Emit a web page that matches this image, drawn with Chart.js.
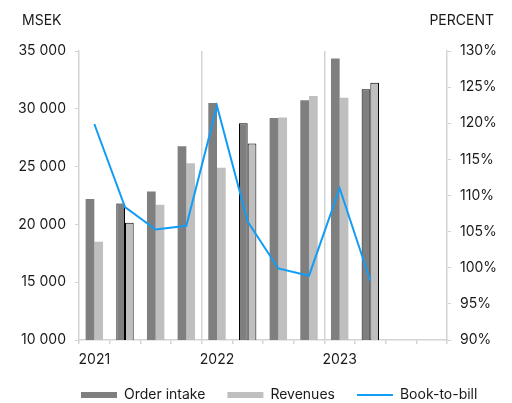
<!DOCTYPE html>
<html>
<head>
<meta charset="utf-8">
<script src="https://cdn.jsdelivr.net/npm/chart.js@4"></script>
<style>
html,body{margin:0;padding:0;background:#fff;}
#wrap{width:512px;height:403px;position:relative;}
</style>
</head>
<body>
<div id="wrap"><canvas id="c"></canvas></div>
<script>
const categories = ['2021','','','','2022','','','','2023','','',''];
const orderIntake = [22200, 21800, 22850, 26750, 30500, 28750, 29200, 30750, 34350, 31700];
const revenues = [18500, 20150, 21700, 25300, 24900, 27000, 29250, 31100, 30950, 32250];
const bookToBill = [119.9, 108.4, 105.3, 105.8, 122.4, 106.4, 99.9, 98.9, 111.0, 98.2];
const leftTicks = [10000, 15000, 20000, 25000, 30000, 35000];
const rightTicks = [90, 95, 100, 105, 110, 115, 120, 125, 130];
const seriesNames = ['Order intake', 'Revenues', 'Book-to-bill'];

const FONT = 'Inter';
const TXT = '#1a1a1a';
const AXIS = '#d4d4d4';
const C_OI = '#7f7f7f', C_REV = '#bfbfbf', C_BTB = '#119df5';
const halfYear = (ctx) => (ctx.dataIndex % 4 === 1 ? 1 : 0);

const titles = {
  id: 'axisTitles',
  afterLayout(chart) {
    const l = chart.legend;
    if (l) { const w = l.right - l.left; l.left = 59; l.right = 59 + w; }
  },
  afterDraw(chart) {
    const ctx = chart.ctx;
    ctx.save();
    ctx.font = '14px ' + FONT;
    ctx.fillStyle = TXT;
    ctx.textBaseline = 'alphabetic';
    ctx.textAlign = 'left';
    ctx.fillText('MSEK', 22, 25);
    ctx.textAlign = 'right';
    ctx.fillText('PERCENT', 494, 25);
    ctx.restore();
  }
};

new Chart(document.getElementById('c'), {
  data: {
    labels: categories,
    datasets: [
      {
        type: 'line', label: seriesNames[2], data: bookToBill, yAxisID: 'y1',
        borderColor: C_BTB, backgroundColor: C_BTB, borderWidth: 2,
        pointRadius: 0, tension: 0, order: -1
      },
      {
        type: 'bar', label: seriesNames[0], data: orderIntake, yAxisID: 'y',
        backgroundColor: C_OI, borderColor: '#000', borderWidth: halfYear,
        borderSkipped: false, categoryPercentage: 0.567, barPercentage: 1.0, order: 1
      },
      {
        type: 'bar', label: seriesNames[1], data: revenues, yAxisID: 'y',
        backgroundColor: C_REV, borderColor: '#000', borderWidth: halfYear,
        borderSkipped: false, categoryPercentage: 0.567, barPercentage: 1.0, order: 1
      }
    ]
  },
  options: {
    responsive: true,
    maintainAspectRatio: false,
    animation: false,
    layout: { padding: { top: 51, left: 0, right: 0, bottom: 0 } },
    plugins: {
      tooltip: { enabled: false },
      legend: {
        position: 'bottom',
        align: 'start',
        maxHeight: 37,
        labels: {
          font: { family: FONT, size: 14 },
          color: TXT,
          usePointStyle: true,
          pointStyleWidth: 36,
          boxHeight: 6,
          padding: 22,
          generateLabels(chart) {
            const ds = chart.data.datasets;
            return [1, 2, 0].map(i => ({
              text: ds[i].label,
              fillStyle: ds[i].type === 'line' ? C_BTB : ds[i].backgroundColor,
              strokeStyle: ds[i].type === 'line' ? C_BTB : ds[i].backgroundColor,
              lineWidth: ds[i].type === 'line' ? 2 : 0,
              pointStyle: ds[i].type === 'line' ? 'line' : 'rect',
              fontColor: TXT,
              hidden: false,
              datasetIndex: i
            }));
          }
        }
      }
    },
    scales: {
      x: {
        type: 'category',
        offset: true,
        grid: {
          offset: true,
          drawOnChartArea: true,
          drawTicks: true,
          tickLength: 4,
          color: (ctx) => (ctx.index === 4 || ctx.index === 8 ? AXIS : 'rgba(0,0,0,0)'),
          tickColor: AXIS,
          lineWidth: 1.5
        },
        border: { display: true, color: AXIS, width: 1.5 },
        ticks: {
          autoSkip: false, maxRotation: 0, padding: 7,
          font: { family: FONT, size: 14 }, color: TXT
        },
        afterFit(scale) { scale.height = 26; }
      },
      y: {
        type: 'linear', position: 'left',
        min: 10000, max: 35000,
        afterBuildTicks(scale) { scale.ticks = leftTicks.map(v => ({ value: v })); },
        grid: { drawOnChartArea: false, drawTicks: true, tickLength: 4, tickColor: AXIS },
        border: { display: true, color: AXIS, width: 1.5 },
        ticks: {
          padding: 9, font: { family: FONT, size: 14 }, color: TXT,
          callback: (v) => String(v).replace(/\B(?=(\d{3})+(?!\d))/g, ' ')
        },
        afterFit(scale) { scale.width = 79; }
      },
      y1: {
        type: 'linear', position: 'right',
        min: 90, max: 130,
        afterBuildTicks(scale) { scale.ticks = rightTicks.map(v => ({ value: v })); },
        grid: { drawOnChartArea: false, drawTicks: true, tickLength: 4, tickColor: AXIS },
        border: { display: true, color: AXIS, width: 1.5 },
        ticks: {
          padding: 9, font: { family: FONT, size: 14 }, color: TXT,
          callback: (v) => v + '%'
        },
        afterFit(scale) { scale.width = 65; }
      }
    }
  },
  plugins: [titles]
});
</script>
</body>
</html>
